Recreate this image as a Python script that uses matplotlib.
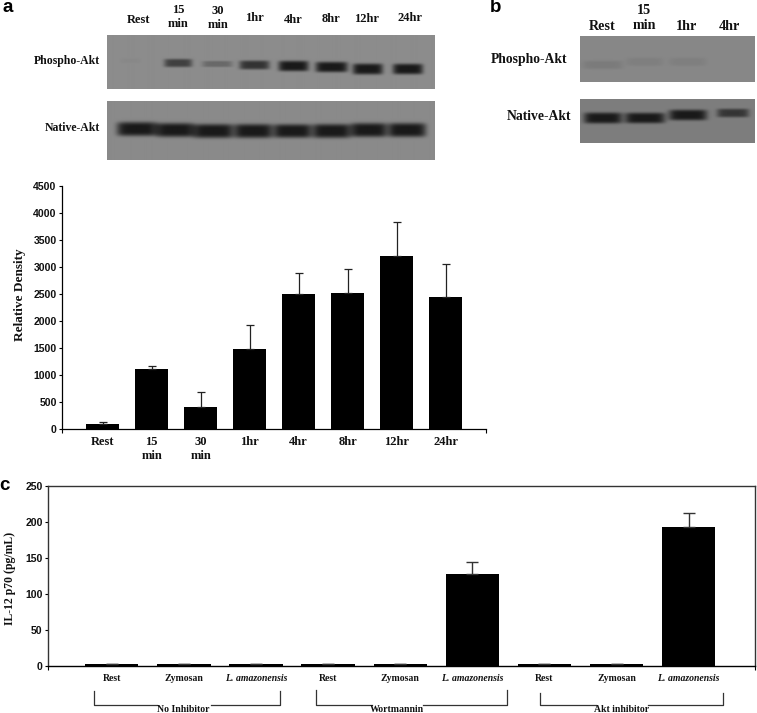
import numpy as np
import matplotlib
matplotlib.use("Agg")
import matplotlib.pyplot as plt
from matplotlib.lines import Line2D

W, H = 757, 713

# chart a
a_labels = ["Rest", "15\nmin", "30\nmin", "1hr", "4hr", "8hr", "12hr", "24hr"]
a_values = [92, 1110, 420, 1486, 2509, 2521, 3200, 2447]
a_errors = [50, 55, 277, 444, 388, 444, 641, 604]
a_yticks = [0, 500, 1000, 1500, 2000, 2500, 3000, 3500, 4000, 4500]

# chart c
c_labels = ["Rest", "Zymosan", "L. amazonensis"] * 3
c_values = [2.3, 2.3, 2.3, 2.3, 2.3, 127.8, 2.3, 2.3, 193.5]
c_errors = [0, 0, 0, 0, 0, 17.1, 0, 0, 19.0]
c_yticks = [0, 50, 100, 150, 200, 250]

# blots: band darkness per lane (0 = no band, 1 = full)
a_phospho_dark = [0.03, 0.6, 0.28, 0.7, 0.92, 0.92, 1.0, 0.95]
a_native_dark = [1.0, 1.0, 1.0, 1.0, 0.95, 1.0, 1.0, 1.0]
b_phospho_dark = [0.10, 0.07, 0.07, 0.0]
b_native_dark = [1.0, 0.95, 0.95, 0.65]


def px_rect(left, top, right, bottom):
    return [left / W, 1 - bottom / H, (right - left) / W, (bottom - top) / H]


def ftext(x, y, s, **kw):
    kw.setdefault("ha", "center")
    kw.setdefault("va", "center")
    kw.setdefault("family", "Liberation Serif")
    kw.setdefault("fontweight", "bold")
    kw.setdefault("fontsize", 8.5)
    kw.setdefault("color", "#111111")
    fig.text(x / W, 1 - y / H, s, **kw)


def fline(xs, ys):
    fig.add_artist(Line2D([x / W for x in xs], [1 - y / H for y in ys],
                          color="#333333", lw=0.9))


def draw_blot(rect, bg, centers, rows, half_w, half_h, dark):
    left, top, right, bottom = rect
    ax = fig.add_axes(px_rect(left, top, right, bottom))
    xx, yy = np.meshgrid(np.arange(left, right) + 0.5, np.arange(top, bottom) + 0.5)
    img = np.full(xx.shape, float(bg))
    for cx, cy, hw, d in zip(centers, rows, half_w, dark):
        band = np.exp(-(np.abs(xx - cx) / hw) ** 6) * np.exp(-(np.abs(yy - cy) / (half_h * (0.4 + 0.6 * d))) ** 4)
        img -= (bg - 25) * min(d * 1.1, 1) * band
    ax.imshow(np.clip(img, 0, 255), cmap="gray", vmin=0, vmax=255, aspect="auto",
              interpolation="bilinear")
    ax.axis("off")


fig = plt.figure(figsize=(W / 100, H / 100), dpi=100, facecolor="white")

# panel letters
for x, y, s in [(8, 8, "a"), (496, 8, "b"), (4, 485, "c")]:
    ftext(x, y, s, family="Liberation Sans", fontsize=13.5, color="black")

# blots panel a
draw_blot((107, 35, 434, 89), 140,
          [130, 178, 217, 254, 293, 331, 367, 407],
          [61, 63, 64, 65, 66, 67, 69, 69],
          [10, 14, 15, 15, 15, 16, 15, 15], 5.5, a_phospho_dark)
draw_blot((107, 101, 434, 160), 138,
          [137, 175, 213, 253, 292, 331, 368, 406],
          [129, 130, 131, 131, 131, 131, 130, 130],
          [20, 19, 20, 19, 19, 19, 18, 19], 7, a_native_dark)

for x, y, s in [(139, 20, "Rest"), (178, 17, "15\nmin"), (218, 18, "30\nmin"), (254, 18, "1hr"),
                (293, 20, "4hr"), (331, 19, "8hr"), (367, 19, "12hr"), (410, 18, "24hr")]:
    ftext(x, y, s, fontsize=9, linespacing=1.2)
ftext(100, 61, "Phospho-Akt", ha="right")
ftext(100, 128, "Native-Akt", ha="right")

# blots panel b
draw_blot((580, 36, 755, 82), 135,
          [603, 645, 688, 733], [65, 62, 62, 62], [20, 18, 18, 18], 9, b_phospho_dark)
draw_blot((580, 99, 755, 143), 125,
          [603, 645, 688, 733], [118, 118, 115, 113], [19, 20, 19, 16], 5.5, b_native_dark)

for x, y, s in [(602.6, 26, "Rest"), (644, 18, "15\nmin"), (686, 26, "1hr"), (729, 27, "4hr")]:
    ftext(x, y, s, fontsize=10.2, linespacing=1.15)
ftext(567, 60, "Phospho-Akt", ha="right", fontsize=9.8)
ftext(571, 116, "Native-Akt", ha="right", fontsize=9.8)

# chart a
ax = fig.add_axes(px_rect(62.3, 186, 486, 429.3))
x = np.arange(len(a_values))
ax.bar(x, a_values, width=0.68, color="black", yerr=[np.zeros(len(a_errors)), a_errors],
       error_kw=dict(ecolor="#222222", elinewidth=0.9, capsize=3, capthick=0.9))
ax.set_xlim(-0.825, 7.825)
ax.set_ylim(0, 4500)
ax.set_yticks(a_yticks)
ax.set_xticks(x, a_labels)
ax.set_xticks([-0.825, 7.825], minor=True)
ax.tick_params(axis="x", which="major", length=0, pad=5)
ax.tick_params(axis="x", which="minor", length=3, width=0.8)
ax.tick_params(axis="y", length=2.5, width=0.8, pad=1.5)
for t in ax.get_xticklabels():
    t.set(family="Liberation Serif", fontweight="bold", fontsize=9, color="#111111", linespacing=1.2)
for t in ax.get_yticklabels():
    t.set(family="Liberation Sans", fontweight="bold", fontsize=7.6, color="#111111")
for s in ["top", "right"]:
    ax.spines[s].set_visible(False)
for s in ["left", "bottom"]:
    ax.spines[s].set_linewidth(0.9)
ftext(20, 295, "Relative Density", rotation=90, fontsize=9.5)

# chart c
ax2 = fig.add_axes(px_rect(48.3, 486, 755, 666))
x2 = np.arange(len(c_values))
ax2.bar(x2, c_values, width=0.74, color="black", yerr=[np.zeros(len(c_errors)), c_errors],
        error_kw=dict(ecolor="#333333", elinewidth=1.0, capsize=4, capthick=1.0))
ax2.set_xlim(-0.88, 8.92)
ax2.set_ylim(0, 250)
ax2.set_yticks(c_yticks)
ax2.set_xticks(x2, c_labels)
ax2.set_xticks([-0.88, 8.92], minor=True)
ax2.tick_params(axis="x", which="major", length=0, pad=6)
ax2.tick_params(axis="x", which="minor", length=3, width=0.8)
ax2.tick_params(axis="y", length=2.5, width=0.8, pad=1.5)
for t in ax2.get_xticklabels():
    t.set(family="Liberation Serif", fontweight="bold", fontsize=7, color="#111111")
    if t.get_text().startswith("L."):
        t.set(fontstyle="italic")
for t in ax2.get_yticklabels():
    t.set(family="Liberation Sans", fontweight="bold", fontsize=7.6, color="#111111")
for s in ax2.spines.values():
    s.set_linewidth(1.0)
    s.set_color("#333333")
ax2.spines["bottom"].set_color("black")
ftext(10, 578, "IL-12 p70 (pg/mL)", rotation=90)

# group brackets under chart c
for l, r, top, t_x, s, g0, g1 in [(94.3, 280, 691, 183, "No Inhibitor", 157, 211),
                                  (316, 507, 690, 397, "Wortmannin", 372, 423),
                                  (540, 723, 693, 621.5, "Akt inhibitor", 596, 648)]:
    fline([l, l, g0], [top, 705, 705])
    fline([g1, r, r], [705, 705, top])
    ftext(t_x, 709, s, fontsize=7)

plt.savefig("out.png", dpi=100)
